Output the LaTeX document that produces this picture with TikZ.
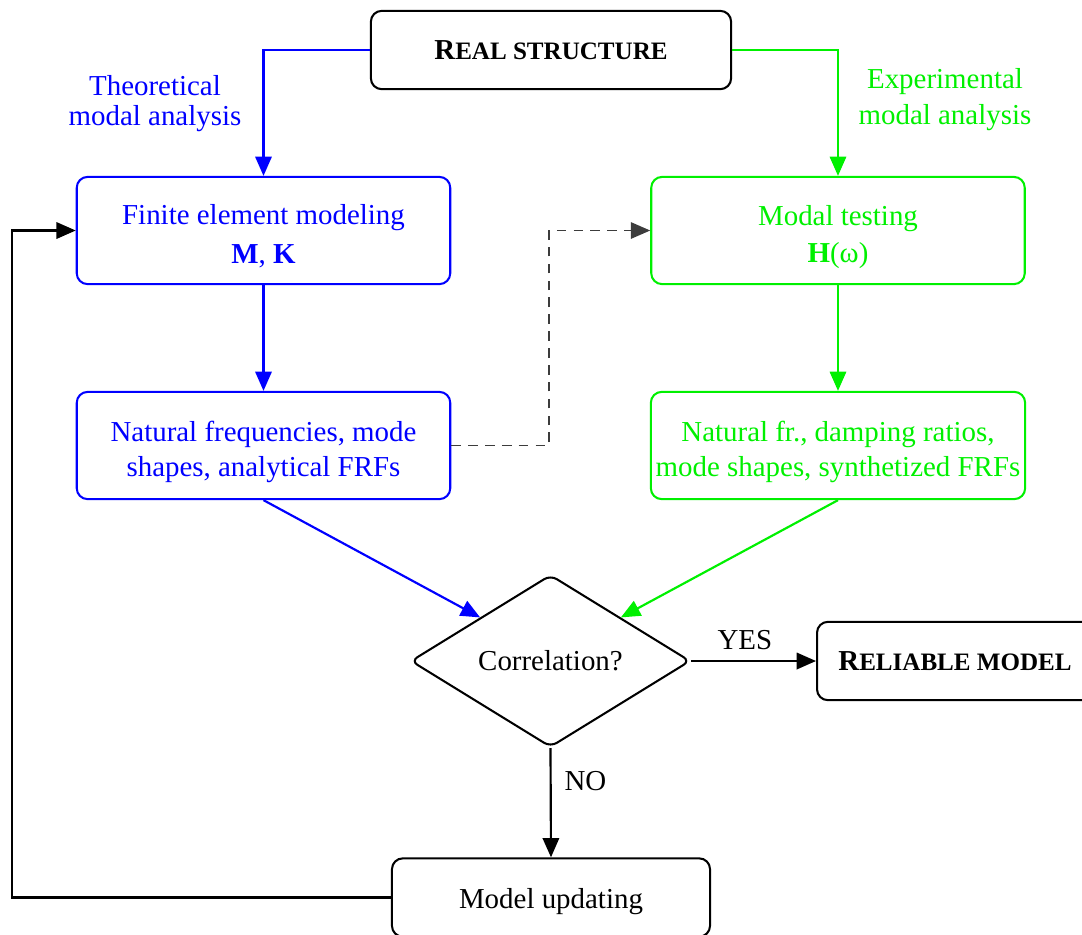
\documentclass[tikz,border=0pt]{standalone}
\usepackage{fontspec}
\setmainfont{Liberation Serif}
\usetikzlibrary{shapes.geometric,arrows.meta}
\definecolor{myblue}{RGB}{0,0,255}
\definecolor{mygreen}{RGB}{0,240,0}
\definecolor{mygray}{RGB}{60,60,60}
\newcommand{\fakesc}[2]{\textbf{#1{\fontsize{10.4}{10.4}\selectfont #2}}}
\newcommand{\topstrut}[1]{\rule{0pt}{#1}}
\tikzset{
  box/.style={draw, line width=0.85pt, rounded corners=4.5pt, align=center, inner sep=2pt},
  bluebox/.style={box, draw=myblue, text=myblue, minimum width=155pt, minimum height=44.5pt},
  greenbox/.style={box, draw=mygreen, text=mygreen, minimum width=155pt, minimum height=44.5pt},
  blackbox/.style={box, draw=black, minimum height=32.5pt},
  conn/.style={line width=0.9pt, -{Triangle[length=8pt,width=6.8pt]}},
  lbl/.style={inner sep=0pt, align=center}
}
\begin{document}
\begin{tikzpicture}[x=0.415pt, y=-0.415pt, font=\fontsize{12}{14.4}\selectfont]
\useasboundingbox (0,0) rectangle (1082,934);

\node[blackbox, minimum width=149.5pt] (real) at (551,50) {\fakesc{R}{EAL STRUCTURE}};
\node[bluebox] (fe) at (263.5,230.5) {\topstrut{13pt}Finite element modeling\\[1.8pt]\textbf{M}, \textbf{K}};
\node[greenbox] (mt) at (838,230.5) {\topstrut{13.5pt}Modal testing\\[0.8pt]\textbf{H}(ω)};
\node[bluebox] (nf) at (263.5,445.5) {\topstrut{13.5pt}Natural frequencies, mode\\shapes, analytical FRFs};
\node[greenbox] (nfe) at (838,445.5) {\topstrut{13.5pt}Natural fr., damping ratios,\\mode shapes, synthetized FRFs};
\node[draw, diamond, line width=0.85pt, rounded corners=3pt, inner sep=0pt, aspect=2,
      minimum width=116pt, minimum height=71.5pt] (corr) at (550.5,661) {Correlation?};
\node[blackbox, minimum width=114.5pt] (rel) at (955,661) {\fakesc{R}{ELIABLE MODEL}};
\node[blackbox, minimum width=132pt] (upd) at (551,897.5) {\topstrut{11.6pt}Model updating};

\node[lbl, text=myblue, font=\fontsize{12}{12.4}\selectfont] (tma) at (155,104) {Theoretical\\modal analysis};
\node[lbl, text=mygreen, font=\fontsize{12}{15}\selectfont] (ema) at (945,100) {Experimental\\modal analysis};

\coordinate (c1) at (263.5,50);
\coordinate (c2) at (838,50);
\coordinate (d1) at (549,445.5);
\coordinate (d2) at (549,230.5);
\coordinate (l1) at (12,897.5);
\coordinate (l2) at (12,230.5);

\draw[conn, myblue] (real.west) -- (c1) -- (fe.north);
\draw[conn, mygreen] (real.east) -- (c2) -- (mt.north);
\draw[conn, myblue] (fe) -- (nf);
\draw[conn, mygreen] (mt) -- (nfe);
\draw[conn, mygray, line width=0.6pt, dash pattern=on 4pt off 3pt] (nf.east) -- (d1) -- (d2) -- (mt.west);
\draw[conn, myblue] (nf.south) -- (corr.north west);
\draw[conn, mygreen] (nfe.south) -- (corr.north east);
\draw[conn] (corr.east) -- node[above=1pt, pos=0.43] {YES} (rel.west);
\draw[conn] (corr.south) -- node[right=2pt, pos=0.3] {NO} (upd.north);
\draw[conn] (upd.west) -- (l1) -- (l2) -- (fe.west);
\end{tikzpicture}
\end{document}
